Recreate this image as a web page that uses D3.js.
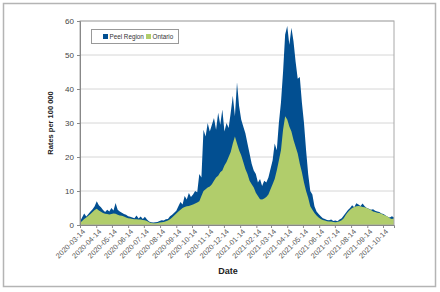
<!DOCTYPE html>
<html>
<head>
<meta charset="utf-8">
<script src="https://cdn.jsdelivr.net/npm/d3@7"></script>
<style>
  body { margin: 0; background: #fff; }
  svg { font-family: "Liberation Sans", Arial, sans-serif; }
</style>
</head>
<body>
<div id="chart"></div>
<script>
// data, one value every 4 days from 2020-03-14
var startDate = "2020-03-14";
var stepDays = 4;

var peelValues = [
    1.0, 2.2, 3.4, 2.5, 3.2, 4.0, 4.6, 5.5, 7.0, 5.8,
    5.2, 4.4, 3.8, 4.5, 4.0, 5.0, 4.3, 6.5, 4.5, 4.0,
    3.6, 3.2, 3.0, 2.6, 2.4, 2.2, 2.0, 2.8, 1.9, 2.5,
    1.8, 2.4, 1.6, 1.0, 0.8, 0.7, 0.8, 0.9, 1.2, 1.4,
    1.3, 1.7, 1.8, 2.6, 3.0, 3.6, 4.2, 5.5, 6.8, 6.0,
    8.5, 7.5, 9.4, 8.2, 9.0, 10.0, 9.6, 15.0, 14.0, 28.0,
    26.0, 30.0, 27.5, 29.5, 31.5, 28.0, 33.0, 29.5, 34.0, 27.5,
    30.0, 28.5, 33.0, 38.0, 32.0, 42.0, 35.0, 31.0, 29.0, 27.0,
    24.0, 21.0, 18.0, 16.0, 15.0, 12.5, 13.5, 11.5, 13.0, 12.5,
    14.0, 16.5, 19.0, 24.0, 22.0, 30.0, 36.0, 45.0, 56.0, 58.5,
    53.0, 58.0, 54.0, 48.0, 43.0, 43.5, 36.0, 30.0, 22.0, 15.0,
    10.0, 9.0, 5.5, 4.0, 3.2, 2.6, 2.0, 1.8, 1.5, 1.4,
    1.6, 1.2, 1.3, 1.1, 1.6, 2.0, 2.8, 3.6, 4.4, 5.0,
    5.8, 5.2, 6.4, 6.0, 5.6, 6.3, 5.5, 5.0, 4.8, 4.5,
    4.6, 4.2, 4.0, 3.8, 3.4, 3.2, 2.8, 2.4, 2.2, 2.6,
    2.2
];

var ontarioValues = [
    0.6, 1.2, 1.8, 2.2, 2.7, 3.2, 3.8, 4.4, 4.8, 4.3,
    3.9, 3.5, 3.3, 3.2, 3.1, 3.2, 3.4, 3.3, 3.0, 2.8,
    2.7, 2.5, 2.2, 2.0, 1.9, 1.8, 1.7, 1.7, 1.6, 1.6,
    1.5, 1.4, 1.2, 0.8, 0.6, 0.5, 0.5, 0.6, 0.7, 0.8,
    0.9, 1.1, 1.3, 1.7, 2.2, 2.8, 3.4, 4.0, 4.5, 5.0,
    5.3, 5.5, 5.6, 5.8, 6.0, 6.3, 6.6, 7.0, 8.5, 10.0,
    10.5, 11.0, 11.3, 12.0, 13.0, 14.0, 14.5, 15.5, 16.0, 17.5,
    18.5, 20.0, 21.5, 24.0, 26.0, 24.0, 22.0, 20.5, 18.5, 16.5,
    15.0, 13.0, 12.0, 11.0, 9.5, 8.5, 7.6, 7.5, 7.8, 8.2,
    9.0, 10.5, 12.0, 13.5, 16.0, 19.0, 22.0, 28.0, 32.0, 31.0,
    29.0, 27.5, 25.0, 23.0, 21.0, 18.0, 15.5, 12.5, 10.0, 8.0,
    5.5, 4.5, 3.5, 2.8, 2.2, 1.8, 1.5, 1.3, 1.1, 1.0,
    1.0, 0.9, 0.8, 0.9, 1.1, 1.4, 2.0, 3.0, 3.8, 4.5,
    5.0, 5.3, 5.5, 5.6, 5.5, 5.3, 5.2, 5.0, 4.7, 4.4,
    4.0, 3.8, 3.6, 3.5, 3.3, 3.0, 2.7, 2.5, 2.0, 1.8,
    1.9
];

var seriesNames = ["Peel Region", "Ontario"];
var seriesColors = ["#024f91", "#b1cd6b"];

var yTicks = [0, 10, 20, 30, 40, 50, 60];
var xTickLabels = [
    "2020-03-14", "2020-04-14", "2020-05-14", "2020-06-14", "2020-07-14",
    "2020-08-14", "2020-09-14", "2020-10-14", "2020-11-14", "2020-12-14",
    "2021-01-14", "2021-02-14", "2021-03-14", "2021-04-14", "2021-05-14",
    "2021-06-14", "2021-07-14", "2021-08-14", "2021-09-14", "2021-10-14"
];

var parseDate = d3.utcParse("%Y-%m-%d");
var t0 = parseDate(startDate);
var rows = peelValues.map(function (v, i) {
    return { date: d3.utcDay.offset(t0, i * stepDays), peel: v, ontario: ontarioValues[i] };
});

var width = 440, height = 292;
var margin = { top: 21, right: 46, bottom: 67, left: 80 };
var innerW = width - margin.left - margin.right,
    innerH = height - margin.top - margin.bottom;

var svg = d3.select("#chart").append("svg")
    .attr("width", width)
    .attr("height", height);

// outer frame
svg.append("rect")
    .attr("x", 3.5).attr("y", 3.5)
    .attr("width", 432).attr("height", 283)
    .attr("fill", "none")
    .attr("stroke", "#b4b4b4")
    .attr("stroke-width", 1.5);

var g = svg.append("g")
    .attr("transform", "translate(" + margin.left + "," + margin.top + ")");

var x = d3.scaleUtc()
    .domain(d3.extent(rows, function (d) { return d.date; }))
    .range([0, innerW]);
var y = d3.scaleLinear()
    .domain([0, 60])
    .range([innerH, 0]);

// grid
g.append("g")
    .selectAll("line")
    .data(yTicks.slice(1))
    .enter()
    .append("line")
    .attr("x1", 0).attr("x2", innerW)
    .attr("y1", function (d) { return y(d); })
    .attr("y2", function (d) { return y(d); })
    .attr("stroke", "#d6d6d6")
    .attr("stroke-width", 1);

// areas
var peelArea = d3.area()
    .x(function (d) { return x(d.date); })
    .y0(y(0))
    .y1(function (d) { return y(d.peel); });
var ontarioArea = d3.area()
    .x(function (d) { return x(d.date); })
    .y0(y(0))
    .y1(function (d) { return y(d.ontario); });

g.append("path").datum(rows)
    .attr("d", peelArea)
    .attr("fill", seriesColors[0]);
g.append("path").datum(rows)
    .attr("d", ontarioArea)
    .attr("fill", seriesColors[1]);

// plot frame
g.append("rect")
    .attr("x", 0).attr("y", 0)
    .attr("width", innerW).attr("height", innerH)
    .attr("fill", "none")
    .attr("stroke", "#a8a8a8")
    .attr("stroke-width", 1);

// y axis
var yAxis = g.append("g")
    .call(d3.axisLeft(y).tickValues(yTicks).tickSize(3).tickPadding(3));
yAxis.select(".domain").attr("stroke", "#888");
yAxis.selectAll(".tick line").attr("stroke", "#888");
yAxis.selectAll("text")
    .attr("fill", "#444")
    .style("font-size", "8px");

// x axis
var xAxis = g.append("g")
    .attr("transform", "translate(0," + innerH + ")")
    .call(d3.axisBottom(x)
        .tickValues(xTickLabels.map(parseDate))
        .tickFormat(d3.utcFormat("%Y-%m-%d"))
        .tickSize(3)
        .tickPadding(2));
xAxis.select(".domain").attr("stroke", "#888");
xAxis.selectAll(".tick line").attr("stroke", "#888");
xAxis.selectAll("text")
    .attr("fill", "#555")
    .style("font-size", "7.4px")
    .style("text-anchor", "end")
    .attr("dx", "-0.2em")
    .attr("dy", "0.5em")
    .attr("transform", "rotate(-45)");

// axis titles
svg.append("text")
    .attr("transform", "translate(53," + (margin.top + innerH / 2) + ") rotate(-90)")
    .attr("text-anchor", "middle")
    .style("font-size", "7.5px")
    .style("font-weight", "bold")
    .attr("fill", "#222")
    .text("Rates per 100 000");
svg.append("text")
    .attr("x", 228).attr("y", 274)
    .attr("text-anchor", "middle")
    .style("font-size", "9px")
    .style("font-weight", "bold")
    .attr("fill", "#222")
    .text("Date");

// legend
var legend = svg.append("g").attr("transform", "translate(91.5,29.5)");
legend.append("rect")
    .attr("width", 87).attr("height", 14)
    .attr("fill", "#fff")
    .attr("stroke", "#999");
var legendX = [11.5, 54.5];
seriesNames.forEach(function (name, i) {
    legend.append("rect")
        .attr("x", legendX[i]).attr("y", 4.5)
        .attr("width", 5).attr("height", 5)
        .attr("fill", seriesColors[i]);
    legend.append("text")
        .attr("x", legendX[i] + 6.5).attr("y", 9.5)
        .style("font-size", "6.3px")
        .attr("fill", "#333")
        .text(name);
});
</script>
</body>
</html>
